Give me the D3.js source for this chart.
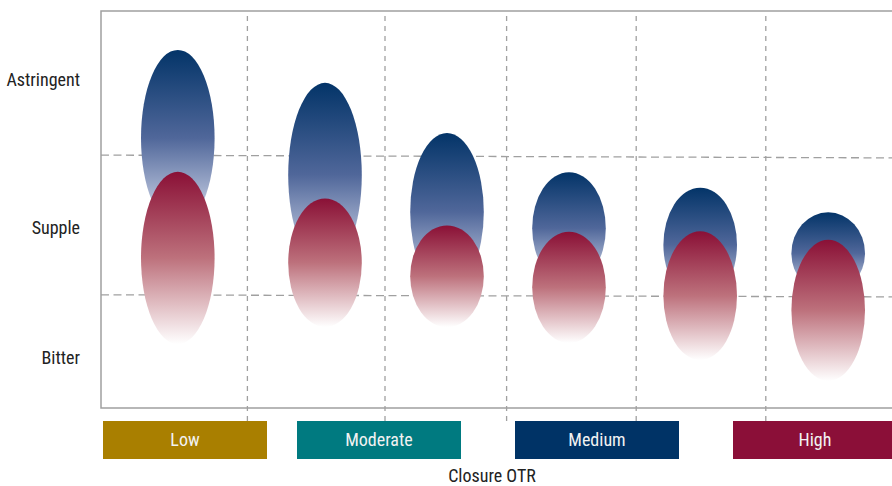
<!DOCTYPE html>
<meta charset="utf-8">
<script src="https://cdn.jsdelivr.net/npm/d3@7"></script>
<style>
body { margin: 0; background: #fff; }
svg { display: block; font-family: "Liberation Sans Narrow", "Roboto Condensed", "DejaVu Sans Condensed", sans-serif; }
.grid line { stroke: #a0a0a0; stroke-width: 1.3; }
.frame { fill: none; stroke: #a0a0a0; stroke-width: 1.5; }
.ylabel { font-size: 18px; fill: #222; }
.legend text { font-size: 18px; fill: #f2f2f2; }
</style>
<body>
<script>

// taste categories on the y axis (value in 0-100 units)
var tastes = ["Astringent", "Supple", "Bitter"];
var tasteValues = [82.7, 45.5, 12.8];

// dashed band boundaries (left end / right end)
var bandLeft = [63.7, 28.5];
var bandRight = [63.0, 28.0];

// vertical dashed separators (x in 0-100 units)
var separators = [18.3, 35.5, 50.7, 66.9, 83.1];

// ellipse centers along x
var centers = [9.6, 28.0, 43.25, 58.5, 74.9, 90.9];
var halfWidth = 4.6;

// blue ellipses: center value and half height
var blueCenter = [68.0, 58.7, 49.4, 45.3, 41.1, 39.0];
var blueSpread = [22.2, 23.2, 19.9, 14.1, 14.4, 10.3];

// red ellipses: center value and half height
var redCenter = [37.8, 36.6, 33.2, 30.4, 28.3, 24.6];
var redSpread = [21.7, 16.2, 12.8, 14.0, 16.2, 17.8];

// closure OTR legend
var levels = ["Low", "Moderate", "Medium", "High"];
var levelColors = ["#a97f00", "#007a80", "#003366", "#8b0f38"];

var width = 892, height = 486;
var plot = {left: 101, top: 11, bottom: 408, right: 901};

var svg = d3.select("body").append("svg")
    .attr("width", width)
    .attr("height", height);

var x = d3.scaleLinear().domain([0, 100]).range([plot.left, plot.right]);
var y = d3.scaleLinear().domain([0, 100]).range([plot.bottom, plot.top]);

// gradients
var defs = svg.append("defs");
function gradient(id, stops) {
  var g = defs.append("linearGradient")
      .attr("id", id)
      .attr("x1", 0).attr("y1", 0).attr("x2", 0).attr("y2", 1);
  stops.forEach(function(s) {
    g.append("stop").attr("offset", s[0]).attr("stop-color", s[1]);
  });
}
gradient("blueGrad", [[0, "#033468"], [0.5, "#50679a"], [1, "#dde2f1"]]);
gradient("redGrad", [[0, "#8a1036"], [0.5, "#bd717c"], [1, "#ffffff"]]);

// grid
var grid = svg.append("g").attr("class", "grid");

grid.selectAll(".h")
    .data(bandLeft)
  .enter().append("line")
    .attr("class", "h")
    .attr("x1", plot.left)
    .attr("x2", width)
    .attr("y1", function(d) { return y(d); })
    .attr("y2", function(d, i) { return y(bandRight[i]); })
    .attr("stroke-dasharray", "8,4.5");

grid.selectAll(".v")
    .data(separators)
  .enter().append("line")
    .attr("class", "v")
    .attr("x1", function(d) { return x(d); })
    .attr("x2", function(d) { return x(d); })
    .attr("y1", plot.top + 5)
    .attr("y2", plot.bottom + 14)
    .attr("stroke-dasharray", "5,5");

// frame: left, top, bottom
svg.append("path")
    .attr("class", "frame")
    .attr("d", "M" + width + "," + plot.top + "H" + plot.left + "V" + plot.bottom + "H" + width);

// y labels
svg.selectAll(".ylabel")
    .data(tastes)
  .enter().append("text")
    .attr("class", "ylabel")
    .attr("x", 80)
    .attr("y", function(d, i) { return y(tasteValues[i]); })
    .attr("dy", "0.36em")
    .attr("text-anchor", "end")
    .text(function(d) { return d; });

// ellipses
var rx = x(halfWidth) - x(0);

svg.append("g").selectAll("ellipse")
    .data(centers)
  .enter().append("ellipse")
    .attr("cx", function(d) { return x(d); })
    .attr("cy", function(d, i) { return y(blueCenter[i]); })
    .attr("rx", rx)
    .attr("ry", function(d, i) { return y(0) - y(blueSpread[i]); })
    .attr("fill", "url(#blueGrad)");

svg.append("g").selectAll("ellipse")
    .data(centers)
  .enter().append("ellipse")
    .attr("cx", function(d) { return x(d); })
    .attr("cy", function(d, i) { return y(redCenter[i]); })
    .attr("rx", rx)
    .attr("ry", function(d, i) { return y(0) - y(redSpread[i]); })
    .attr("fill", "url(#redGrad)");

// legend boxes
var legendX = [103, 297, 515, 733];
var boxW = 164, boxH = 38, boxY = 421;

var legend = svg.selectAll(".legend")
    .data(levels)
  .enter().append("g")
    .attr("class", "legend")
    .attr("transform", function(d, i) { return "translate(" + legendX[i] + "," + boxY + ")"; });

legend.append("rect")
    .attr("width", boxW)
    .attr("height", boxH)
    .attr("fill", function(d, i) { return levelColors[i]; });

legend.append("text")
    .attr("x", boxW / 2)
    .attr("y", boxH / 2)
    .attr("dy", "0.36em")
    .attr("text-anchor", "middle")
    .text(function(d) { return d; });

// axis title
svg.append("text")
    .attr("x", 492)
    .attr("y", 476)
    .attr("dy", "0.36em")
    .attr("text-anchor", "middle")
    .style("font-size", "18px")
    .style("fill", "#222")
    .text("Closure OTR");

</script>
</body>
